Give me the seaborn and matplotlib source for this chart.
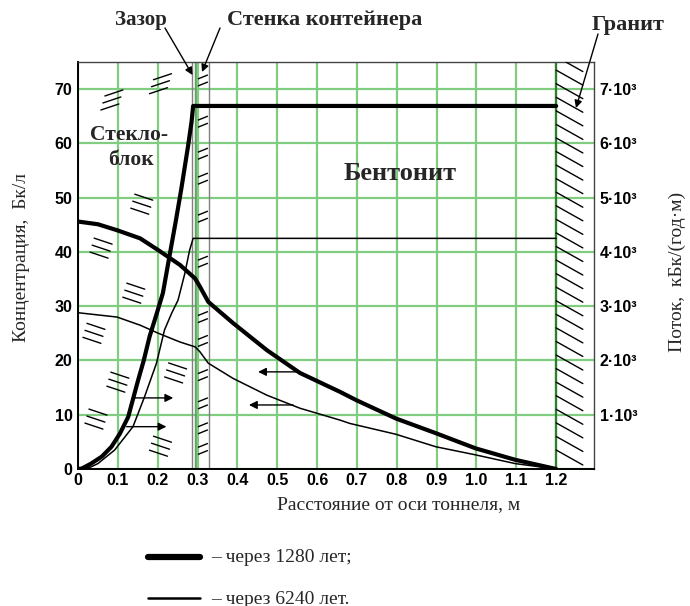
import numpy as np
import pandas as pd
import matplotlib
matplotlib.use("Agg")
import matplotlib.pyplot as plt
import seaborn as sns
from matplotlib.lines import Line2D

# ---------------- data ----------------
conc_thick_x = [0, 0.05, 0.098, 0.156, 0.202, 0.256, 0.294, 0.306, 0.327, 0.389, 0.474, 0.557, 0.658, 0.698, 0.798, 0.898, 0.998, 1.097, 1.2]
conc_thick_y = [45.6, 45.1, 44.0, 42.5, 40.3, 37.6, 35.1, 33.6, 30.8, 26.9, 21.9, 17.7, 14.2, 12.7, 9.3, 6.6, 3.8, 1.7, 0.0]

conc_thin_x = [0, 0.098, 0.156, 0.202, 0.256, 0.294, 0.306, 0.327, 0.389, 0.474, 0.557, 0.658, 0.682, 0.798, 0.898, 0.998, 1.097, 1.2]
conc_thin_y = [28.8, 28.0, 26.5, 25.0, 23.4, 22.5, 21.6, 19.5, 16.7, 13.6, 11.2, 9.0, 8.4, 6.4, 4.1, 2.6, 1.0, 0.0]

flux_thick_x = [0, 0.01, 0.033, 0.06, 0.084, 0.105, 0.126, 0.151, 0.165, 0.18, 0.197, 0.213, 0.23, 0.245, 0.259, 0.276, 0.285, 0.289, 1.2]
flux_thick_y = [0, 10, 100, 230, 410, 650, 960, 1640, 2000, 2450, 2850, 3240, 3940, 4550, 5150, 5940, 6400, 6690, 6690]

flux_thin_x = [0, 0.03, 0.05, 0.092, 0.138, 0.167, 0.197, 0.217, 0.235, 0.251, 0.268, 0.28, 0.289, 1.2]
flux_thin_y = [0, 30, 100, 350, 780, 1330, 1950, 2560, 2870, 3110, 3600, 4030, 4250, 4250]

x_ticks = [0, 0.1, 0.2, 0.3, 0.4, 0.5, 0.6, 0.7, 0.8, 0.9, 1.0, 1.1, 1.2]
x_tick_labels = ["0", "0.1", "0.2", "0.3", "0.4", "0.5", "0.6", "0.7", "0.8", "0.9", "1.0", "1.1", "1.2"]
y_ticks = [0, 10, 20, 30, 40, 50, 60, 70]
y2_ticks = [1000, 2000, 3000, 4000, 5000, 6000, 7000]
y2_tick_labels = ["1·10³", "2·10³", "3·10³", "4·10³", "5·10³", "6·10³", "7·10³"]

legend_labels = ["– через 1280 лет;", "– через 6240 лет."]

# ---------------- figure ----------------
sns.set_theme(style="white")
plt.rcParams["font.family"] = ["Liberation Serif", "DejaVu Serif"]

W, H = 690, 606
fig = plt.figure(figsize=(W / 100, H / 100), dpi=100)

def fx(px):
    return px / W

def fy(py):
    return 1 - py / H

ax = fig.add_axes([fx(78), fy(469), fx(594) - fx(78), fy(62) - fy(469)])
XMAX = 1.295
YMAX = 75
ax.set_xlim(0, XMAX)
ax.set_ylim(0, YMAX)

green = "#80cc80"
ax.set_xticks(x_ticks)
ax.set_xticklabels(x_tick_labels)
ax.set_yticks(y_ticks)
ax.set_yticklabels([str(v) for v in y_ticks])
ax.grid(True, color=green, lw=1.6, zorder=0)
ax.set_axisbelow(True)
tick_font = dict(family="Liberation Sans", weight="bold", size=11.5)
for lab in ax.get_xticklabels() + ax.get_yticklabels():
    lab.set_fontproperties(matplotlib.font_manager.FontProperties(**tick_font))
ax.tick_params(axis="x", length=0, pad=3, colors="black")
ax.tick_params(axis="y", length=0, pad=4, colors="black")

for s in ax.spines.values():
    s.set_color("#444444")
    s.set_linewidth(1.0)
ax.spines["left"].set_color("black")
ax.spines["bottom"].set_color("black")
ax.spines["left"].set_linewidth(1.4)
ax.spines["bottom"].set_linewidth(1.4)

# structure lines (gap and container wall)
gray = "#808080"
for xv in [0.2855, 0.2925, 0.3295]:
    ax.axvline(xv, color=gray, lw=1.0, zorder=2)
ax.axvline(0.2965, color="#5aa85a", lw=1.2, zorder=2)
ax.axvline(1.2, color="#2f7f2f", lw=1.6, zorder=2)

# wall hatch (pairs of short slanted strokes)
wall_centres = [71.6, 64.0, 58.1, 53.5, 46.5, 38.2, 28.0, 23.6, 17.3, 12.1, 7.5, 3.7]
for c in wall_centres:
    for off in (0.65, -0.65):
        yc = c + off
        ax.plot([0.301, 0.326], [yc - 0.37, yc + 0.37], color="black", lw=1.0, zorder=3, solid_capstyle="butt")

# granite hatch
y0 = 76.0
while y0 > 2.0:
    ax.plot([1.2, 1.267], [y0, y0 - 2.76], color="black", lw=1.0, zorder=3, clip_on=True)
    y0 -= 2.5

# glass-block marks (three short parallel strokes)
pxx = XMAX / 516.0
pxy = YMAX / 407.0
glass_marks = [(0.085, 68.0, 1), (0.207, 71.0, 1), (0.058, 40.7, -1), (0.16, 48.8, -1),
               (0.14, 32.4, -1), (0.04, 25.0, -1), (0.10, 16.0, -1), (0.045, 9.2, -1),
               (0.245, 17.7, -1), (0.207, 4.2, -1)]
for (mx, my, sgn) in glass_marks:
    for k in (-1, 0, 1):
        cx = mx + (-2 * k) * pxx
        cy = my - (7 * k) * pxy
        dx = 9 * pxx
        if sgn > 0:
            ax.plot([cx - dx, cx + dx], [cy - 3 * pxy, cy + 3 * pxy], color="black", lw=1.0, zorder=3)
        else:
            ax.plot([cx - dx, cx + dx], [cy + 3 * pxy, cy - 3 * pxy], color="black", lw=1.0, zorder=3)

# concentration curves (left axis)
df_ct = pd.DataFrame({"x": conc_thick_x, "y": conc_thick_y})
df_cn = pd.DataFrame({"x": conc_thin_x, "y": conc_thin_y})
sns.lineplot(data=df_ct, x="x", y="y", ax=ax, color="black", lw=3.0, sort=False, estimator=None, zorder=5)
sns.lineplot(data=df_cn, x="x", y="y", ax=ax, color="black", lw=1.1, sort=False, estimator=None, zorder=5)
ax.set_xlabel("")
ax.set_ylabel("")

# flux curves (right axis)
ax2 = ax.twinx()
ax2.set_ylim(0, YMAX * 100)
ax2.set_xlim(0, XMAX)
df_ft = pd.DataFrame({"x": flux_thick_x, "y": flux_thick_y})
df_fn = pd.DataFrame({"x": flux_thin_x, "y": flux_thin_y})
sns.lineplot(data=df_ft, x="x", y="y", ax=ax2, color="black", lw=3.0, sort=False, estimator=None)
sns.lineplot(data=df_fn, x="x", y="y", ax=ax2, color="black", lw=1.1, sort=False, estimator=None)
ax2.set_xlabel("")
ax2.set_ylabel("")
ax2.set_yticks(y2_ticks)
ax2.set_yticklabels(y2_tick_labels)
for lab in ax2.get_yticklabels():
    lab.set_fontproperties(matplotlib.font_manager.FontProperties(**tick_font))
ax2.tick_params(axis="y", length=0, pad=4, colors="black")
ax2.grid(False)
for s in ax2.spines.values():
    s.set_visible(False)

# direction arrows
arrow_kw = dict(arrowstyle="-|>", color="black", lw=1.0, mutation_scale=12, shrinkA=0, shrinkB=0)
for (x1, x2, yy) in [(0.138, 0.239, 13.1), (0.122, 0.222, 7.8), (0.557, 0.452, 17.9), (0.54, 0.429, 11.8)]:
    ax.annotate("", xy=(x2, yy), xytext=(x1, yy), arrowprops=arrow_kw, zorder=6)

# region labels
bold_serif = dict(family=["Liberation Serif", "DejaVu Serif"], weight="bold")
fig.text(fx(129), fy(135), "Стекло-", ha="center", va="center", fontsize=15.5, **bold_serif)
fig.text(fx(131), fy(160), "блок", ha="center", va="center", fontsize=15.5, **bold_serif)
fig.text(fx(400), fy(173), "Бентонит", ha="center", va="center", fontsize=19, **bold_serif)

fig.text(fx(141), fy(20), "Зазор", ha="center", va="center", fontsize=15, **bold_serif)
fig.text(fx(325), fy(20), "Стенка контейнера", ha="center", va="center", fontsize=16, **bold_serif)
fig.text(fx(628), fy(25), "Гранит", ha="center", va="center", fontsize=16, **bold_serif)

ptr_kw = dict(arrowstyle="-|>", color="black", lw=1.0, mutation_scale=11, shrinkA=0, shrinkB=0)
for (a, b) in [((165, 28), (192.5, 75)), ((220, 28), (202, 72)), ((598, 34), (576, 108))]:
    fig.add_artist(matplotlib.patches.FancyArrowPatch(
        (fx(a[0]), fy(a[1])), (fx(b[0]), fy(b[1])), transform=fig.transFigure, **ptr_kw))

# axis labels
serif = dict(family=["Liberation Serif", "DejaVu Serif"])
fig.text(fx(399), fy(505), "Расстояние от оси тоннеля, м", ha="center", va="center", fontsize=14, **serif)
fig.text(fx(22), fy(258), "Концентрация,  Бк/л", ha="center", va="center", rotation=90, fontsize=14, **serif)
fig.text(fx(677), fy(272), "Поток,  кБк/(год·м)", ha="center", va="center", rotation=90, fontsize=14, **serif)

# legend
fig.add_artist(Line2D([fx(148), fx(200)], [fy(557), fy(557)], color="black", lw=4.5, transform=fig.transFigure))
fig.add_artist(Line2D([fx(148), fx(200)], [fy(598), fy(598)], color="black", lw=1.8, transform=fig.transFigure))
fig.text(fx(211), fy(557), legend_labels[0], ha="left", va="center", fontsize=14, **serif)
fig.text(fx(211), fy(599), legend_labels[1], ha="left", va="center", fontsize=14, **serif)

fig.savefig("out.png", dpi=100)
